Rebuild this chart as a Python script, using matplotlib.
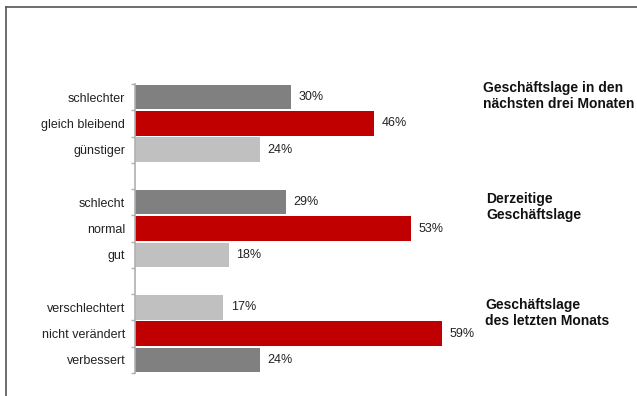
import matplotlib
matplotlib.use("Agg")
import matplotlib.pyplot as plt
from matplotlib.lines import Line2D

plt.rcParams['font.family'] = ['Liberation Sans', 'DejaVu Sans']

# Data
groups = ["Geschäftslage in den\nnächsten drei Monaten",
          "Derzeitige\nGeschäftslage",
          "Geschäftslage\ndes letzten Monats"]
labels_g1 = ["schlechter", "gleich bleibend", "günstiger"]
values_g1 = [30, 46, 24]
labels_g2 = ["schlecht", "normal", "gut"]
values_g2 = [29, 53, 18]
labels_g3 = ["verschlechtert", "nicht verändert", "verbessert"]
values_g3 = [17, 59, 24]

DARK = "#808080"
RED = "#C00000"
LIGHT = "#C0C0C0"
colors_g1 = [DARK, RED, LIGHT]
colors_g2 = [DARK, RED, LIGHT]
colors_g3 = [LIGHT, RED, DARK]

W, H = 637, 396
fig = plt.figure(figsize=(W / 100, H / 100), dpi=100)

ax_left_px, ax_right_px = 135, 635
ax_top_px, ax_bot_px = 84, 373
ax = fig.add_axes([ax_left_px / W, 1 - ax_bot_px / H,
                   (ax_right_px - ax_left_px) / W, (ax_bot_px - ax_top_px) / H])

px_per_pct = 5.2
ax.set_xlim(0, (ax_right_px - ax_left_px) / px_per_pct)

labels = labels_g1 + [""] + labels_g2 + [""] + labels_g3
values = values_g1 + [None] + values_g2 + [None] + values_g3
colors = colors_g1 + [None] + colors_g2 + [None] + colors_g3
n = len(labels)
ax.set_ylim(n - 0.5, -0.5)

for i, (lab, v, c) in enumerate(zip(labels, values, colors)):
    if v is None:
        continue
    ax.barh(i, v, height=0.93, color=c, edgecolor='none')
    ax.text(v + 1.5, i, f"{v}%", va='center', ha='left', fontsize=9, color='#222222')

ax.set_yticks(range(n))
ax.set_yticklabels(labels, fontsize=9, color='#222222')
ax.tick_params(axis='y', length=0, pad=7)
# boundary ticks
ax.set_yticks([i - 0.5 for i in range(n + 1)], minor=True)
ax.tick_params(axis='y', which='minor', length=3, color='#B0B0B0', width=1)
ax.tick_params(axis='x', which='both', bottom=False, labelbottom=False)

for s in ['top', 'right', 'bottom']:
    ax.spines[s].set_visible(False)
ax.spines['left'].set_color('#B0B0B0')
ax.spines['left'].set_linewidth(1.2)

# group titles
title_pos = [(483, 96), (486, 207), (485, 313)]
for t, (x, y) in zip(groups, title_pos):
    fig.text(x / W, 1 - y / H, t, fontsize=10, fontweight='bold',
             ha='left', va='center', color='#111111', linespacing=1.15)

# figure border (left and top)
fig.add_artist(Line2D([6.5 / W, 6.5 / W], [0, 1 - 7 / H], transform=fig.transFigure,
                      color='#555555', linewidth=1.2))
fig.add_artist(Line2D([6.5 / W, 1], [1 - 7 / H, 1 - 7 / H], transform=fig.transFigure,
                      color='#555555', linewidth=1.2))

fig.savefig("out.png", dpi=100, facecolor='white')
